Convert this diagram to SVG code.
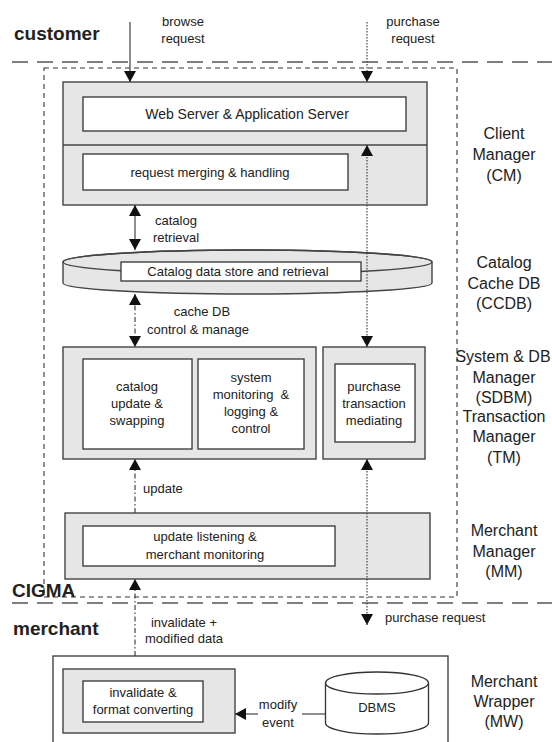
<svg xmlns="http://www.w3.org/2000/svg" width="552" height="742" viewBox="0 0 552 742">
<style>
text{font-family:"Liberation Sans",Arial,sans-serif;fill:#222}
.t{font-size:13px;text-anchor:middle}
.ts{font-size:13px}
.lbl{font-size:16px;text-anchor:middle}
.bold{font-size:19px;font-weight:bold}
.outer{fill:#e6e6e6;stroke:#444;stroke-width:1.4}
.inner{fill:#fff;stroke:#333;stroke-width:1.3}
.sep{fill:none;stroke:#555;stroke-width:1.5;stroke-dasharray:16 9}
.bound{fill:none;stroke:#333;stroke-width:1.1;stroke-dasharray:5 4}
.c{fill:none;stroke:#444;stroke-width:1.2}
.dot{stroke-dasharray:1.5 1.5}
.dd{stroke-dasharray:5 2.5 1.5 2.5}
</style>
<defs>
<marker id="ah" viewBox="0 0 11 12" refX="11" refY="6" markerWidth="11" markerHeight="12" markerUnits="userSpaceOnUse" orient="auto-start-reverse">
<path d="M0,0 L11,6 L0,12 z" fill="#111"/>
</marker>
</defs>

<g id="boundaries">
<line class="sep" x1="12" y1="62" x2="552" y2="62"/>
<line class="sep" x1="12" y1="603" x2="552" y2="603"/>
<rect class="bound" x="44" y="68" width="413" height="529"/>
</g>

<g id="zone-labels">
<text class="bold" x="14" y="40">customer</text>
<text class="bold" x="12" y="597">CIGMA</text>
<text class="bold" x="13" y="635">merchant</text>
</g>

<g id="cm">
<rect class="outer" x="63" y="82" width="364" height="123"/>
<line x1="63" y1="145" x2="427" y2="145" stroke="#444" stroke-width="1.4"/>
<rect class="inner" x="83" y="97" width="323" height="34"/>
<text class="t" x="247" y="119" style="font-size:14px">Web Server &amp; Application Server</text>
<rect class="inner" x="83" y="154" width="265" height="36"/>
<text class="t" x="210" y="177">request merging &amp; handling</text>
</g>

<g id="ccdb">
<path class="outer" d="M63,262 A184.5,12 0 0 1 432,262 L432,283 A184.5,11 0 0 1 63,283 Z"/>
<ellipse cx="247.5" cy="262" rx="184.5" ry="12" fill="none" stroke="#444" stroke-width="1.4"/>
<rect class="inner" x="121" y="262" width="240" height="19"/>
<text class="t" x="238" y="276">Catalog data store and retrieval</text>
</g>

<g id="sdbm">
<rect class="outer" x="63" y="347" width="253" height="112"/>
<rect class="inner" x="83" y="359" width="109" height="90"/>
<text class="t" x="137" y="391">catalog</text>
<text class="t" x="137" y="408">update &amp;</text>
<text class="t" x="137" y="425">swapping</text>
<rect class="inner" x="198" y="359" width="106" height="90"/>
<text class="t" x="251" y="382">system</text>
<text class="t" x="251" y="399" xml:space="preserve">monitoring  &amp;</text>
<text class="t" x="251" y="416">logging &amp;</text>
<text class="t" x="251" y="433">control</text>
</g>

<g id="tm">
<rect class="outer" x="323" y="347" width="102" height="112"/>
<rect class="inner" x="335" y="364" width="80" height="78"/>
<text class="t" x="374" y="391">purchase</text>
<text class="t" x="374" y="408">transaction</text>
<text class="t" x="374" y="425">mediating</text>
</g>

<g id="mm">
<rect class="outer" x="65" y="513" width="365" height="66"/>
<rect class="inner" x="83" y="526" width="252" height="40"/>
<text class="t" x="205" y="541">update listening &amp;</text>
<text class="t" x="205" y="559">merchant monitoring</text>
</g>

<g id="mw">
<rect x="53" y="656" width="395" height="90" fill="#fff" stroke="#444" stroke-width="1.4"/>
<rect class="outer" x="63" y="669" width="172" height="64"/>
<rect class="inner" x="83" y="681" width="120" height="41"/>
<text class="t" x="143" y="697">invalidate &amp;</text>
<text class="t" x="143" y="714">format converting</text>
</g>

<g id="dbms">
<path d="M325.5,683 L325.5,723 A51.5,11 0 0 0 428.5,723 L428.5,683" fill="#fff" stroke="#333" stroke-width="1.3"/>
<ellipse cx="377" cy="683" rx="51.5" ry="11" fill="#fff" stroke="#333" stroke-width="1.3"/>
<text class="t" x="377" y="712">DBMS</text>
</g>

<g id="side-labels">
<text class="lbl" x="504" y="139">Client</text>
<text class="lbl" x="504" y="160">Manager</text>
<text class="lbl" x="504" y="181">(CM)</text>
<text class="lbl" x="504" y="268">Catalog</text>
<text class="lbl" x="504" y="289">Cache DB</text>
<text class="lbl" x="504" y="309">(CCDB)</text>
<text class="lbl" x="503" y="362">System &amp; DB</text>
<text class="lbl" x="504" y="383">Manager</text>
<text class="lbl" x="504" y="403">(SDBM)</text>
<text class="lbl" x="504" y="422">Transaction</text>
<text class="lbl" x="504" y="442">Manager</text>
<text class="lbl" x="504" y="463">(TM)</text>
<text class="lbl" x="504" y="536">Merchant</text>
<text class="lbl" x="504" y="557">Manager</text>
<text class="lbl" x="504" y="577">(MM)</text>
<text class="lbl" x="504" y="687">Merchant</text>
<text class="lbl" x="504" y="707">Wrapper</text>
<text class="lbl" x="504" y="727">(MW)</text>
</g>

<g id="connectors">
<line class="c" x1="130" y1="22" x2="130" y2="82" marker-end="url(#ah)"/>
<line class="c dot" x1="367" y1="22" x2="367" y2="82" marker-end="url(#ah)"/>
<line class="c dot" x1="367" y1="145" x2="367" y2="347" marker-start="url(#ah)" marker-end="url(#ah)"/>
<line class="c" x1="135" y1="205" x2="135" y2="250" marker-start="url(#ah)" marker-end="url(#ah)"/>
<line class="c dd" x1="135" y1="294" x2="135" y2="347" marker-start="url(#ah)" marker-end="url(#ah)"/>
<line class="c dd" x1="135" y1="513" x2="135" y2="459" marker-end="url(#ah)"/>
<line class="c dot" x1="367" y1="459" x2="367" y2="625" marker-start="url(#ah)" marker-end="url(#ah)"/>
<line class="c dd" x1="135" y1="656" x2="135" y2="579" marker-end="url(#ah)"/>
<line class="c" x1="325.5" y1="714" x2="302" y2="714"/>
<line class="c" x1="258" y1="714" x2="235" y2="714" marker-end="url(#ah)"/>
</g>

<g id="connector-labels">
<text class="t" x="183" y="26">browse</text>
<text class="t" x="183" y="43">request</text>
<text class="t" x="413" y="26">purchase</text>
<text class="t" x="413" y="43">request</text>
<text class="t" x="176" y="225">catalog</text>
<text class="t" x="176" y="242">retrieval</text>
<text class="t" x="202" y="316">cache DB</text>
<text class="t" x="198" y="334">control &amp; manage</text>
<text class="ts" x="143" y="493">update</text>
<text class="t" x="184" y="627">invalidate +</text>
<text class="t" x="184" y="643">modified data</text>
<text class="ts" x="385" y="622">purchase request</text>
<text class="t" x="278" y="709">modify</text>
<text class="t" x="278" y="727">event</text>
</g>
</svg>
